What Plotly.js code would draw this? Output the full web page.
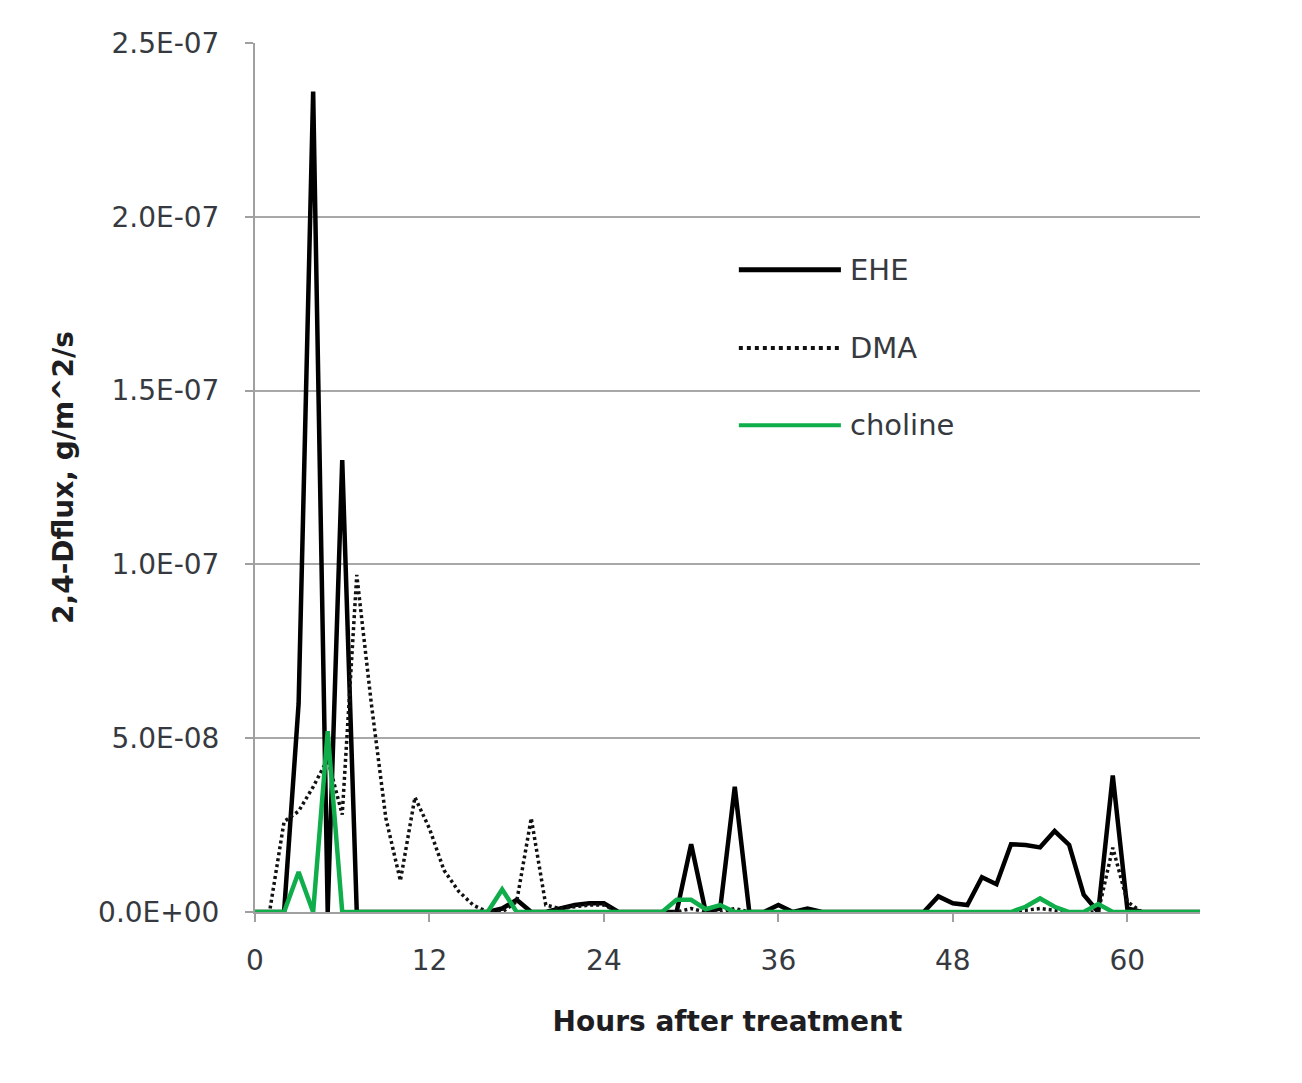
<!DOCTYPE html>
<html>
<head>
<meta charset="utf-8">
<script src="https://cdn.plot.ly/plotly-3.0.1.min.js"></script>
<style>
  html, body { margin: 0; padding: 0; background: #ffffff; }
  #chart { width: 1302px; height: 1083px; }
</style>
</head>
<body>
<div id="chart"></div>
<script>
// Hours after treatment (0..65)
const hours = [];
for (let h = 0; h <= 65; h++) hours.push(h);

// 2,4-D flux, g/m^2/s
const ehe = [
  0, 0, 0, 6.0e-8, 2.36e-7, 0, 1.30e-7, 0, 0, 0,
  0, 0, 0, 0, 0, 0, 0, 1.0e-9, 3.5e-9, 0,
  0, 1.0e-9, 2.0e-9, 2.5e-9, 2.5e-9, 0, 0, 0, 0, 0,
  1.95e-8, 0, 1.0e-9, 3.6e-8, 0, 0, 2.0e-9, 0, 1.0e-9, 0,
  0, 0, 0, 0, 0, 0, 0, 4.5e-9, 2.5e-9, 2.0e-9,
  1.0e-8, 8.0e-9, 1.95e-8, 1.93e-8, 1.86e-8, 2.33e-8, 1.93e-8, 5.0e-9, 0, 3.93e-8,
  1.0e-9, 0, 0, 0, 0, 0
];
const dma = [
  0, 0, 2.6e-8, 2.9e-8, 3.6e-8, 4.4e-8, 2.8e-8, 9.7e-8, 6.0e-8, 2.7e-8,
  9.0e-9, 3.3e-8, 2.4e-8, 1.2e-8, 6.0e-9, 2.0e-9, 0, 0, 3.0e-9, 2.7e-8,
  2.0e-9, 1.0e-9, 1.5e-9, 2.0e-9, 2.0e-9, 0, 0, 0, 0, 0,
  1.0e-9, 0, 0, 1.0e-9, 0, 0, 0, 0, 0, 0,
  0, 0, 0, 0, 0, 0, 0, 0, 0, 0,
  0, 0, 0, 5.0e-10, 1.0e-9, 5.0e-10, 0, 0, 0, 1.85e-8,
  3.0e-9, 0, 0, 0, 0, 0
];
const choline = [
  0, 0, 0, 1.15e-8, 0, 5.2e-8, 0, 0, 0, 0,
  0, 0, 0, 0, 0, 0, 0, 6.5e-9, 0, 0,
  0, 0, 0, 0, 0, 0, 0, 0, 0, 3.5e-9,
  3.5e-9, 8.0e-10, 2.0e-9, 0, 0, 0, 0, 0, 0, 0,
  0, 0, 0, 0, 0, 0, 0, 0, 0, 0,
  0, 0, 0, 1.5e-9, 3.9e-9, 1.5e-9, 0, 0, 2.3e-9, 0,
  0, 0, 0, 0, 0, 0
];

const seriesNames = ["EHE", "DMA", "choline"];
const xTicks = [0, 12, 24, 36, 48, 60];
const yTickVals = [0, 5e-8, 1e-7, 1.5e-7, 2e-7, 2.5e-7];
const yTickText = ["0.0E+00", "5.0E-08", "1.0E-07", "1.5E-07", "2.0E-07", "2.5E-07"];

const FONT = "'DejaVu Sans', Verdana, sans-serif";
const TXT = "#363a40";
const GREEN = "#10ad4b";

const traces = [
  { x: hours, y: ehe, name: seriesNames[0], type: "scatter", mode: "lines",
    line: { color: "#000000", width: 4.5 } },
  { x: hours, y: dma, name: seriesNames[1], type: "scatter", mode: "lines",
    line: { color: "#111111", width: 3.5, dash: "3px,3px" } },
  { x: hours, y: choline, name: seriesNames[2], type: "scatter", mode: "lines",
    line: { color: GREEN, width: 4.5 } }
];

// legend drawn as shapes + annotations (long line samples like the original)
const legY = [0.739, 0.649, 0.560];
const legStyle = [
  { color: "#000000", width: 5, dash: "solid" },
  { color: "#111111", width: 4, dash: "dot" },
  { color: GREEN, width: 4, dash: "solid" }
];
const shapes = [], annotations = [];
seriesNames.forEach((n, i) => {
  shapes.push({ type: "line", xref: "paper", yref: "paper",
    x0: 0.512, x1: 0.620, y0: legY[i], y1: legY[i], line: legStyle[i] });
  annotations.push({ xref: "paper", yref: "paper", x: 0.627, y: legY[i],
    xanchor: "left", yanchor: "middle", showarrow: false, text: n,
    font: { family: FONT, size: 29, color: TXT } });
});

const layout = {
  width: 1302, height: 1083,
  margin: { l: 255, r: 102, t: 43, b: 171 },
  paper_bgcolor: "#ffffff", plot_bgcolor: "#ffffff",
  showlegend: false,
  font: { family: FONT, color: TXT },
  xaxis: {
    range: [0, 65], tickvals: xTicks, ticktext: xTicks.map(String),
    ticks: "outside", ticklen: 8, tickwidth: 2, tickcolor: "#a0a0a0",
    showline: true, linecolor: "#a0a0a0", linewidth: 2,
    showgrid: false, zeroline: false,
    tickfont: { family: FONT, size: 28, color: TXT },
    ticklabelstandoff: 14,
    title: { text: "<b>Hours after treatment</b>", standoff: 36,
      font: { family: FONT, size: 28, color: "#1e1e22" } }
  },
  yaxis: {
    range: [0, 2.5e-7], tickvals: yTickVals, ticktext: yTickText,
    ticks: "outside", ticklen: 8, tickwidth: 2, tickcolor: "#a0a0a0",
    showline: true, linecolor: "#a0a0a0", linewidth: 2,
    showgrid: true, gridcolor: "#a8a8a8", gridwidth: 2,
    zeroline: false,
    tickfont: { family: FONT, size: 28, color: TXT },
    ticklabelstandoff: 20,
    title: { text: "<b>2,4-Dflux, g/m^2/s</b>", standoff: 16,
      font: { family: FONT, size: 28, color: "#1e1e22" } }
  },
  shapes: shapes,
  annotations: annotations
};

Plotly.newPlot("chart", traces, layout, { displayModeBar: false, staticPlot: true });
</script>
</body>
</html>
